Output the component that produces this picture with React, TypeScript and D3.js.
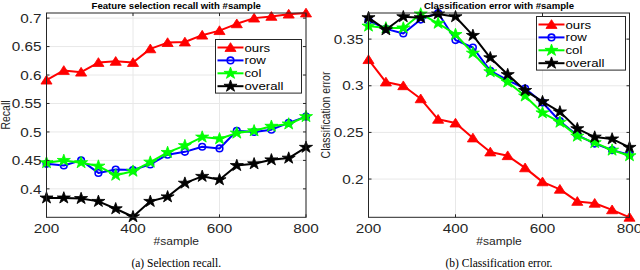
import React from 'react';
import * as d3 from 'd3';

const samples = [200, 240, 280, 320, 360, 400, 440, 480, 520, 560, 600, 640, 680, 720, 760, 800];
const seriesNames = ['ours', 'row', 'col', 'overall'];

// (a) recall
const recallOurs = [0.591, 0.608, 0.605, 0.622, 0.624, 0.622, 0.646, 0.657, 0.658, 0.670, 0.678, 0.690, 0.700, 0.703, 0.707, 0.709];
const recallRow = [0.444, 0.441, 0.450, 0.428, 0.434, 0.433, 0.443, 0.460, 0.465, 0.474, 0.471, 0.502, 0.500, 0.504, 0.516, 0.527];
const recallCol = [0.446, 0.450, 0.446, 0.440, 0.424, 0.431, 0.447, 0.464, 0.476, 0.491, 0.488, 0.498, 0.502, 0.510, 0.514, 0.527];
const recallOverall = [0.384, 0.384, 0.383, 0.378, 0.365, 0.351, 0.378, 0.386, 0.410, 0.422, 0.416, 0.441, 0.444, 0.451, 0.454, 0.473];
const recallTicks = [0.4, 0.45, 0.5, 0.55, 0.6, 0.65, 0.7];

// (b) classification error
const errOurs = [0.328, 0.304, 0.300, 0.286, 0.264, 0.260, 0.244, 0.229, 0.225, 0.212, 0.197, 0.189, 0.176, 0.174, 0.167, 0.159];
const errRow = [0.370, 0.361, 0.356, 0.371, 0.378, 0.349, 0.341, 0.316, 0.306, 0.297, 0.282, 0.262, 0.247, 0.238, 0.231, 0.226];
const errCol = [0.364, 0.362, 0.362, 0.377, 0.367, 0.355, 0.335, 0.315, 0.304, 0.289, 0.271, 0.261, 0.246, 0.239, 0.231, 0.225];
const errOverall = [0.373, 0.360, 0.374, 0.373, 0.377, 0.374, 0.354, 0.330, 0.312, 0.295, 0.283, 0.272, 0.254, 0.245, 0.243, 0.234];
const errTicks = [0.2, 0.25, 0.3, 0.35];

const xTicks = [200, 400, 600, 800];

const colors = ['#ff0000', '#0000ff', '#00ff00', '#000000'];
const sans = '"Liberation Sans", Arial, Helvetica, sans-serif';
const serif = '"Liberation Serif", "DejaVu Serif", serif';
const axisColor = '#262626';
const sx = 1.15; // the figure is a bit stretched horizontally

function Marker({ kind, x, y, color }) {
  if (kind === 1) {
    return <circle cx={x} cy={y} r={3.3} fill="none" stroke={color} strokeWidth={1.6} />;
  }
  const type = kind === 0 ? d3.symbolTriangle : d3.symbolStar;
  const size = kind === 0 ? 44 : 44;
  const path = d3.symbol().type(type).size(size)();
  const dy = kind === 0 ? 1 : 0;
  return (
    <path d={path} transform={`translate(${x},${y + dy}) scale(1.1,1)`} fill={color}
      stroke={color} strokeWidth={0.8} strokeLinejoin="miter" />
  );
}

function SText({ x, y, children, size, anchor = 'middle', weight = 'normal', family = sans, fill = axisColor, rotate = 0, stretch = sx }) {
  return (
    <text transform={`translate(${x},${y}) rotate(${rotate}) scale(${rotate ? 1 : stretch},${rotate ? stretch : 1})`}
      fontSize={size} fontFamily={family} fontWeight={weight} textAnchor={anchor} fill={fill}>
      {children}
    </text>
  );
}

function Panel({ left, right, domain, yTicks, series, title, ylabel, caption, legend, fmt }) {
  const top = 13;
  const bottom = 217.3;
  const x = d3.scaleLinear().domain([200, 800]).range([left, right]);
  const y = d3.scaleLinear().domain(domain).range([bottom, top]);
  const line = d3.line().x((_, i) => x(samples[i])).y((d) => y(d));
  const cx = (left + right) / 2;
  const rowH = 12.9;
  return (
    <g>
      <rect x={left} y={top} width={right - left} height={bottom - top} fill="#ffffff" />
      {xTicks.map((t) => (
        <line key={'gx' + t} x1={x(t)} x2={x(t)} y1={top} y2={bottom} stroke="#e8e8e8" strokeWidth={1} />
      ))}
      {yTicks.map((t) => (
        <line key={'gy' + t} x1={left} x2={right} y1={y(t)} y2={y(t)} stroke="#e8e8e8" strokeWidth={1} />
      ))}
      {series.map((vals, k) => (
        <g key={k}>
          <path d={line(vals)} fill="none" stroke={colors[k]} strokeWidth={2} strokeLinejoin="round" />
          {vals.map((v, i) => (
            <Marker key={i} kind={k} x={x(samples[i])} y={y(v)} color={colors[k]} />
          ))}
        </g>
      ))}
      <rect x={left} y={top} width={right - left} height={bottom - top} fill="none" stroke={axisColor} strokeWidth={1} />
      {xTicks.map((t) => (
        <g key={'tx' + t}>
          <line x1={x(t)} x2={x(t)} y1={bottom} y2={bottom - 3} stroke={axisColor} />
          <line x1={x(t)} x2={x(t)} y1={top} y2={top + 3} stroke={axisColor} />
          <SText x={x(t)} y={232.5} size={13.3}>{t}</SText>
        </g>
      ))}
      {yTicks.map((t) => (
        <g key={'ty' + t}>
          <line x1={left} x2={left + 3} y1={y(t)} y2={y(t)} stroke={axisColor} />
          <line x1={right} x2={right - 3} y1={y(t)} y2={y(t)} stroke={axisColor} />
          <SText x={left - 5} y={y(t) + 4.7} size={13.3} anchor="end">{fmt(t)}</SText>
        </g>
      ))}
      <SText x={cx} y={9} size={9.5} weight="bold" fill="#000" stretch={1.01}>{title}</SText>
      <SText x={cx} y={245} size={10.5}>#sample</SText>
      <SText x={legend.ylab} y={115} size={10.5} rotate={-90}>{ylabel}</SText>
      <SText x={cx} y={267} size={11.5} family={serif} fill="#000" stretch={1}>{caption}</SText>
      <g>
        <rect x={legend.x} y={legend.y} width={legend.w} height={rowH * 4 + 2} fill="#ffffff" stroke={axisColor} strokeWidth={1} />
        {seriesNames.map((name, k) => {
          const ly = legend.y + 8 + k * rowH;
          return (
            <g key={name}>
              <line x1={legend.x + 2} x2={legend.x + 28} y1={ly} y2={ly} stroke={colors[k]} strokeWidth={2} />
              <Marker kind={k} x={legend.x + 15} y={ly} color={colors[k]} />
              <SText x={legend.x + 29} y={ly + 4} size={11.5} anchor="start" fill="#000">{name}</SText>
            </g>
          );
        })}
      </g>
    </g>
  );
}

export default function App() {
  const fmt = (t) => d3.format('')(+t.toFixed(2));
  return (
    <svg width={640} height={270} style={{ display: 'block', position: 'absolute', left: 0, top: 0 }}>
      <rect width={640} height={270} fill="#ffffff" />
      <Panel left={46.5} right={306} domain={[0.35, 0.709]} yTicks={recallTicks}
        series={[recallOurs, recallRow, recallCol, recallOverall]}
        title="Feature selection recall with #sample" ylabel="Recall"
        caption="(a) Selection recall." fmt={fmt}
        legend={{ x: 215.5, y: 39.5, w: 86, ylab: 10 }} />
      <Panel left={368.5} right={629.5} domain={[0.159, 0.378]} yTicks={errTicks}
        series={[errOurs, errRow, errCol, errOverall]}
        title="Classification error with #sample" ylabel="Classification error"
        caption="(b) Classification error." fmt={fmt}
        legend={{ x: 536.5, y: 16.5, w: 89, ylab: 330 }} />
    </svg>
  );
}
